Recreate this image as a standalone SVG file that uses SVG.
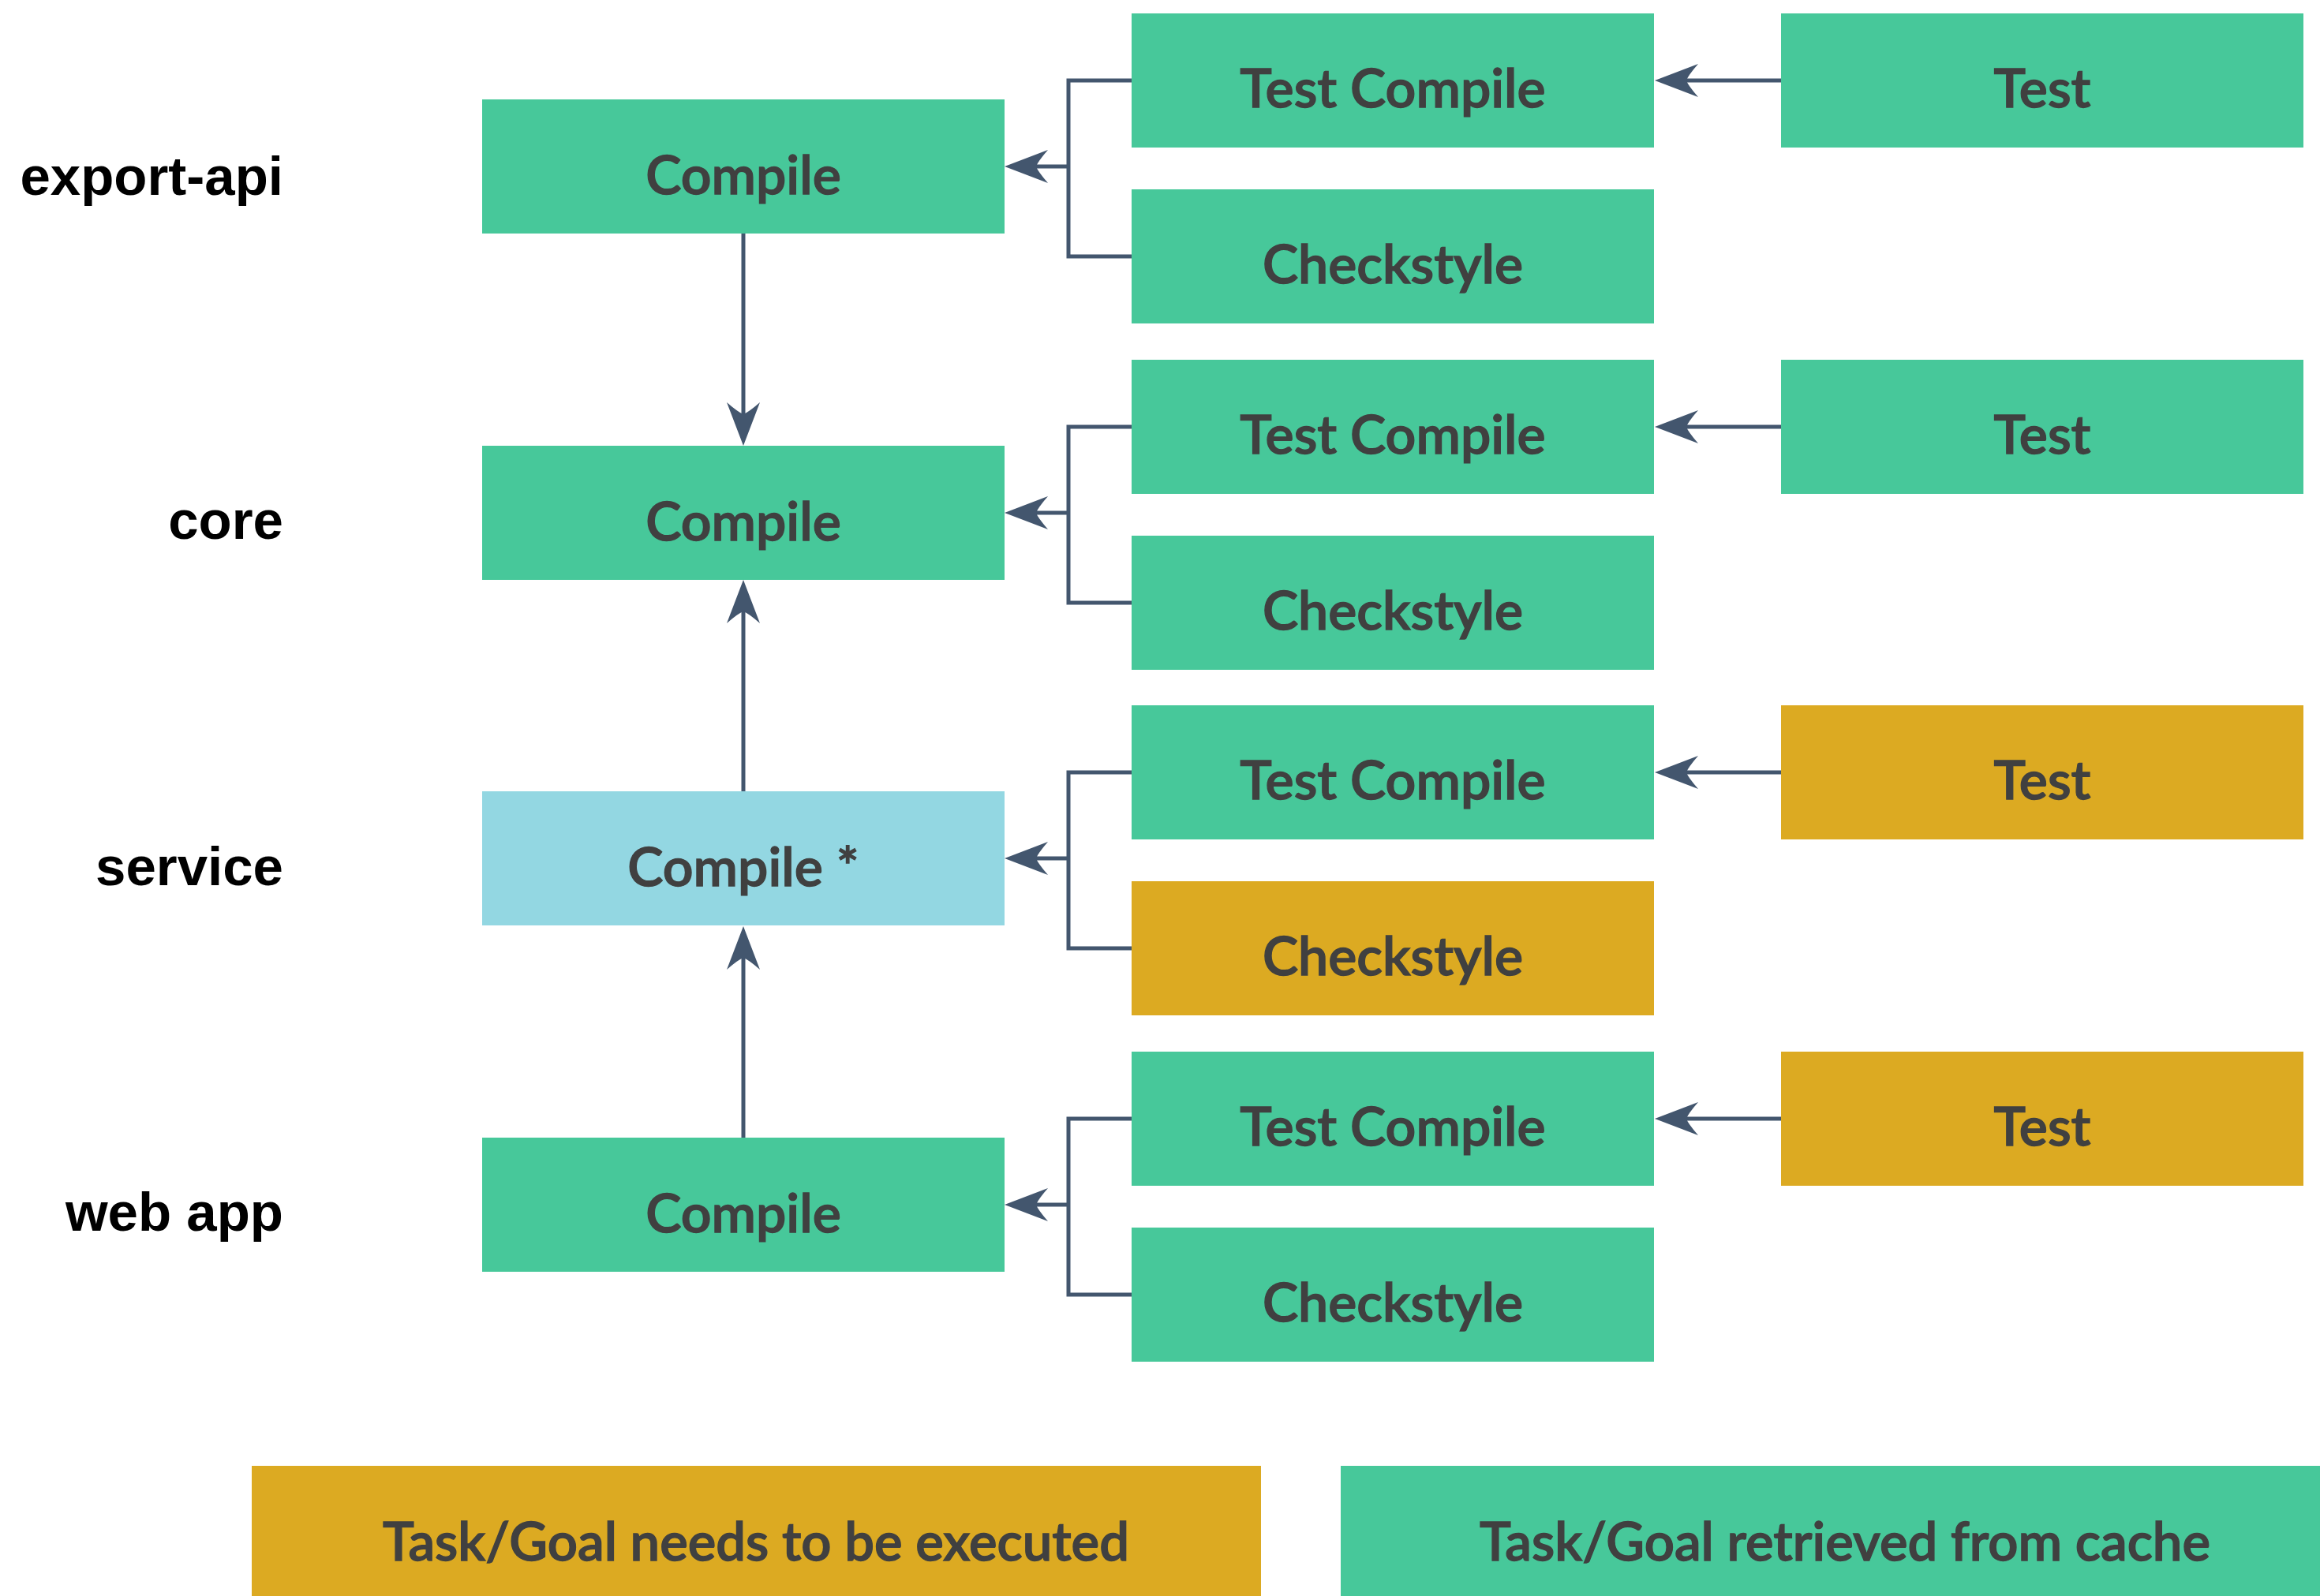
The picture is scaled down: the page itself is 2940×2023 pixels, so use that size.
<svg xmlns="http://www.w3.org/2000/svg" width="2940" height="2023" viewBox="0 0 2940 2023">
<style>
.g{fill:#47C89A}
.y{fill:#DCAA22}
.b{fill:#93D7E2}
.t{font-family:Lato,"Open Sans","Liberation Sans",sans-serif;font-weight:600;font-size:68px;fill:#404040;stroke:#404040;stroke-width:1.3px;text-anchor:middle}
.lg{font-size:67px}
.lab{font-family:"Liberation Sans",Arial,sans-serif;font-weight:bold;font-size:69px;fill:#000;text-anchor:end}
.c{fill:none;stroke:#43566E;stroke-width:5}
</style>
<defs>
<marker id="ah" viewBox="-1 -23 58 46" refX="16" refY="0" markerWidth="58" markerHeight="46" markerUnits="userSpaceOnUse" orient="auto">
<path d="M56,0 L1,-21 Q14,-6 16,0 Q14,6 1,21 Z" fill="#43566E"/>
</marker>
</defs>
<rect width="2940" height="2023" fill="#fff"/>
<g id="labels">
<text class="lab" x="359" y="247">export-api</text>
<text class="lab" x="359" y="683">core</text>
<text class="lab" x="359" y="1122">service</text>
<text class="lab" x="359" y="1560">web app</text>
</g>
<g id="export-api-compile"><rect class="g" x="611" y="126" width="662" height="170"/><text class="t" x="942" y="246">Compile</text></g>
<g id="export-api-testcompile"><rect class="g" x="1434" y="17" width="662" height="170"/><text class="t" x="1765" y="136">Test Compile</text></g>
<g id="export-api-checkstyle"><rect class="g" x="1434" y="240" width="662" height="170"/><text class="t" x="1765" y="359">Checkstyle</text></g>
<g id="export-api-test"><rect class="g" x="2257" y="17" width="662" height="170"/><text class="t" x="2588" y="136">Test</text></g>

<g id="core-compile"><rect class="g" x="611" y="565" width="662" height="170"/><text class="t" x="942" y="685">Compile</text></g>
<g id="core-testcompile"><rect class="g" x="1434" y="456" width="662" height="170"/><text class="t" x="1765" y="575">Test Compile</text></g>
<g id="core-checkstyle"><rect class="g" x="1434" y="679" width="662" height="170"/><text class="t" x="1765" y="798">Checkstyle</text></g>
<g id="core-test"><rect class="g" x="2257" y="456" width="662" height="170"/><text class="t" x="2588" y="575">Test</text></g>

<g id="service-compile"><rect class="b" x="611" y="1003" width="662" height="170"/><text class="t" x="942" y="1123">Compile *</text></g>
<g id="service-testcompile"><rect class="g" x="1434" y="894" width="662" height="170"/><text class="t" x="1765" y="1013">Test Compile</text></g>
<g id="service-checkstyle"><rect class="y" x="1434" y="1117" width="662" height="170"/><text class="t" x="1765" y="1236">Checkstyle</text></g>
<g id="service-test"><rect class="y" x="2257" y="894" width="662" height="170"/><text class="t" x="2588" y="1013">Test</text></g>

<g id="webapp-compile"><rect class="g" x="611" y="1442" width="662" height="170"/><text class="t" x="942" y="1562">Compile</text></g>
<g id="webapp-testcompile"><rect class="g" x="1434" y="1333" width="662" height="170"/><text class="t" x="1765" y="1452">Test Compile</text></g>
<g id="webapp-checkstyle"><rect class="g" x="1434" y="1556" width="662" height="170"/><text class="t" x="1765" y="1675">Checkstyle</text></g>
<g id="webapp-test"><rect class="y" x="2257" y="1333" width="662" height="170"/><text class="t" x="2588" y="1452">Test</text></g>

<g id="connectors">
<path class="c" d="M1434,102 H1354 V325 H1434"/>
<path class="c" d="M1354,211 H1313" marker-end="url(#ah)"/>
<path class="c" d="M2257,102 H2137" marker-end="url(#ah)"/>
<path class="c" d="M1434,541 H1354 V764 H1434"/>
<path class="c" d="M1354,650 H1313" marker-end="url(#ah)"/>
<path class="c" d="M2257,541 H2137" marker-end="url(#ah)"/>
<path class="c" d="M1434,979 H1354 V1202 H1434"/>
<path class="c" d="M1354,1088 H1313" marker-end="url(#ah)"/>
<path class="c" d="M2257,979 H2137" marker-end="url(#ah)"/>
<path class="c" d="M1434,1418 H1354 V1641 H1434"/>
<path class="c" d="M1354,1527 H1313" marker-end="url(#ah)"/>
<path class="c" d="M2257,1418 H2137" marker-end="url(#ah)"/>
<path class="c" d="M942,296 V525" marker-end="url(#ah)"/>
<path class="c" d="M942,1003 V775" marker-end="url(#ah)"/>
<path class="c" d="M942,1442 V1214" marker-end="url(#ah)"/>
</g>
<g id="legend-execute"><rect class="y" x="319" y="1858" width="1279" height="170"/><text class="t lg" x="958" y="1978">Task/Goal needs to be executed</text></g>
<g id="legend-cache"><rect class="g" x="1699" y="1858" width="1279" height="170"/><text class="t lg" x="2338" y="1978">Task/Goal retrieved from cache</text></g>
</svg>
